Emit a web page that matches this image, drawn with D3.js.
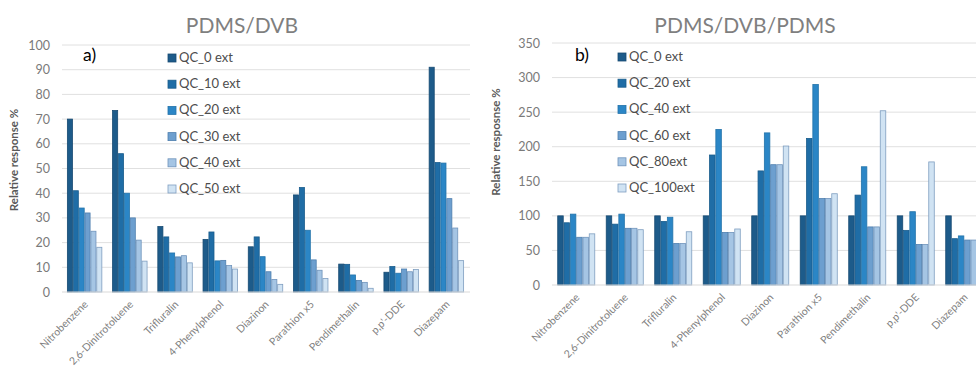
<!DOCTYPE html>
<html><head><meta charset="utf-8">
<script src="https://cdn.jsdelivr.net/npm/d3@7"></script>
<style>
html,body{margin:0;padding:0;background:#fff;overflow:hidden}
svg{display:block;font-family:Lato,"Open Sans",sans-serif}
</style></head>
<body>
<svg id="c" width="976" height="366"></svg>
<script>
const categories = ["Nitrobenzene","2,6-Dinitrotoluene","Trifluralin","4-Phenylphenol","Diazinon","Parathion x5","Pendimethalin","p,p'-DDE","Diazepam"];

// Chart a) PDMS/DVB
const seriesA = ["QC_0 ext","QC_10 ext","QC_20 ext","QC_30 ext","QC_40 ext","QC_50 ext"];
const a_QC0  = [70, 73.5, 26.5, 21.3, 18.3, 39.3, 11.3, 8, 91];
const a_QC10 = [41, 56, 22.3, 24.3, 22.3, 42.3, 11.2, 10.3, 52.4];
const a_QC20 = [34, 40, 15.8, 12.6, 14.3, 25, 6.9, 7.6, 52.2];
const a_QC30 = [32, 30, 14.2, 12.8, 8.2, 13, 4.7, 9.3, 37.8];
const a_QC40 = [24.6, 21, 14.7, 10.7, 5.1, 8.8, 3.9, 8.2, 25.9];
const a_QC50 = [18.1, 12.5, 11.8, 9.3, 3.1, 5.5, 1.5, 9.1, 12.7];
const ticksA = [0,10,20,30,40,50,60,70,80,90,100];

// Chart b) PDMS/DVB/PDMS
const seriesB = ["QC_0 ext","QC_20 ext","QC_40 ext","QC_60 ext","QC_80ext","QC_100ext"];
const b_QC0   = [100, 100, 100, 100, 100, 100, 100, 100, 100];
const b_QC20  = [90, 88, 92, 188, 165, 212, 130, 79, 67];
const b_QC40  = [102.5, 102.5, 98, 225, 220, 290, 171, 106, 71];
const b_QC60  = [69, 82, 60, 76, 174, 125, 84, 58.5, 65];
const b_QC80  = [69, 82, 60, 76, 174, 125, 84, 58.5, 65];
const b_QC100 = [74, 80, 77, 81, 201, 132, 252, 178, 65];
const ticksB = [0,50,100,150,200,250,300,350];

const fills   = ["#1d5b8a","#1f6da6","#2b86c6","#6d9fcf","#a5c5e4","#d0e3f3"];
const strokes = ["#174a72","#1a5c8c","#2373aa","#4f7fae","#6f93bb","#7f9ec0"];

const svg = d3.select("#c");

function drawChart(opt){
  const g = svg.append("g");
  const y = d3.scaleLinear().domain([0, opt.ymax]).range([opt.y0, opt.y1]);
  const x0 = d3.scaleBand().domain(categories).range([opt.xL, opt.xR]).paddingInner(0.22).paddingOuter(0.11);
  const x1 = d3.scaleBand().domain(opt.series).range([0, x0.bandwidth()]);
  const color = d3.scaleOrdinal().domain(opt.series).range(fills);
  const scol = d3.scaleOrdinal().domain(opt.series).range(strokes);

  // gridlines
  g.append("g").selectAll("line").data(opt.ticks.filter(t=>t>0)).join("line")
    .attr("x1", opt.xL).attr("x2", opt.gridR)
    .attr("y1", d=>y(d)).attr("y2", d=>y(d))
    .attr("stroke", "#e0e0e0").attr("stroke-width", 1);

  // y axis labels
  const ya = d3.axisLeft(y).tickValues(opt.ticks).tickSize(0).tickPadding(0);
  const yg = g.append("g").attr("transform", `translate(${opt.yLabX},0)`).call(ya);
  yg.select(".domain").remove();
  yg.selectAll("text").attr("fill", "#7a7a7a").style("font-size", "12.5px").style("font-family","Lato,sans-serif");

  // bars
  const data = opt.values;
  const groups = g.append("g").selectAll("g").data(categories).join("g")
    .attr("transform", d=>`translate(${x0(d)},0)`);
  groups.selectAll("rect").data((c,ci)=>opt.series.map((s,si)=>({s, v:data[si][ci]}))).join("rect")
    .attr("x", d=>x1(d.s)+0.4).attr("width", x1.bandwidth()-0.8)
    .attr("y", d=>y(d.v)).attr("height", d=>y(0)-y(d.v))
    .attr("fill", d=>color(d.s)).attr("stroke", d=>scol(d.s)).attr("stroke-width", 0.8);

  // baseline
  g.append("line").attr("x1", opt.xL).attr("x2", opt.gridR).attr("y1", y(0)).attr("y2", y(0))
    .attr("stroke", "#d9d9d9").attr("stroke-width", 1);

  // x axis labels
  const xa = d3.axisBottom(x0).tickSize(0).tickPadding(0);
  const xg = g.append("g").attr("transform", `translate(0,${y(0)})`).call(xa);
  xg.select(".domain").remove();
  xg.selectAll("text")
    .attr("fill", "#7f7f7f").style("font-size", "10.5px").style("font-family","Lato,sans-serif")
    .attr("text-anchor", "end").attr("dy", null).attr("y", 0)
    .attr("transform", "translate(4,13) rotate(-45)");

  // title
  g.append("text").attr("x", opt.titleX).attr("y", 33).attr("text-anchor","middle")
    .attr("fill","#7f7f7f").style("font-size","21px").text(opt.title);
  // panel label
  g.append("text").attr("x", opt.tagX).attr("y", 61).attr("fill","#000")
    .style("font-size","17.5px").text(opt.tag);
  // y title
  g.append("text").attr("transform", `translate(${opt.yTitleX},${opt.yTitleY}) rotate(-90)`)
    .attr("text-anchor","middle").attr("fill","#595959").style("font-size","11.5px").style("font-weight","bold")
    .text(opt.yTitle);

  // legend
  const lg = g.append("g").selectAll("g").data(opt.series).join("g")
    .attr("transform", (d,i)=>`translate(${opt.legX},${opt.legY + i*26.2})`);
  lg.append("rect").attr("x",0).attr("y",-8).attr("width",8).attr("height",8)
    .attr("fill", d=>color(d)).attr("stroke", d=>scol(d)).attr("stroke-width",0.8);
  lg.append("text").attr("x",11).attr("y",0).attr("fill","#4d4d4d").style("font-size","13px").text(d=>d);
}

drawChart({
  series: seriesA, values: [a_QC0,a_QC10,a_QC20,a_QC30,a_QC40,a_QC50], ticks: ticksA, ymax: 100,
  y0: 292, y1: 45, xL: 62, xR: 469, gridR: 470, yLabX: 50,
  title: "PDMS/DVB", titleX: 242, tag: "a)", tagX: 83,
  yTitle: "Relative response %", yTitleX: 18, yTitleY: 160,
  legX: 168, legY: 62
});

drawChart({
  series: seriesB, values: [b_QC0,b_QC20,b_QC40,b_QC60,b_QC80,b_QC100], ticks: ticksB, ymax: 350,
  y0: 285, y1: 43, xL: 552, xR: 988.5, gridR: 990, yLabX: 540,
  title: "PDMS/DVB/PDMS", titleX: 745, tag: "b)", tagX: 575,
  yTitle: "Relative resposnse %", yTitleX: 500, yTitleY: 142,
  legX: 618, legY: 61
});
</script>
</body></html>
